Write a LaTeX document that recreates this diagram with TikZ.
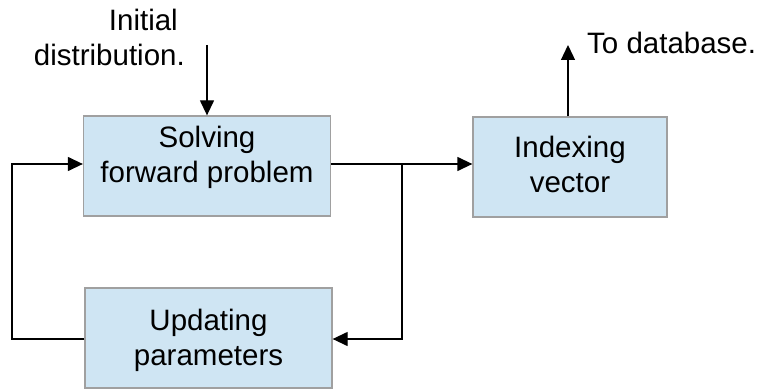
\documentclass[tikz,border=0pt]{standalone}
\usepackage{fontspec}
\setmainfont{Liberation Sans}
\usetikzlibrary{arrows.meta}
\definecolor{boxfill}{HTML}{CFE5F3}
\definecolor{boxline}{HTML}{A0A0A0}
\tikzset{
  blk/.style={draw=boxline, fill=boxfill, line width=1.3pt, minimum width=247pt, minimum height=100pt, inner sep=0pt},
  txt/.style={font=\fontsize{29.5}{35}\selectfont, inner sep=0pt, align=center},
  conn/.style={line width=1.3pt, draw=black},
  arr/.style={conn, -{Triangle[length=15pt,width=14pt]}},
  lbl/.style={font=\fontsize{29.5}{34.5}\selectfont, inner sep=0pt}
}
\begin{document}
\begin{tikzpicture}[x=1pt,y=-1pt]
\useasboundingbox (0,0) rectangle (760,390);
\node[blk, label={[txt, yshift=9pt]center:Solving\\forward problem}] (solve) at (207,166) {};
\node[blk, minimum width=194pt, label={[txt, yshift=3pt]center:Indexing\\vector}] (index) at (570,167) {};
\node[blk, label={[txt, yshift=-2pt]center:Updating\\parameters}] (update) at (208.5,338) {};
\node[lbl, align=right, anchor=north east] (init) at (185,9) {Initial\rule{7pt}{0pt}\\distribution.};
\node[lbl, anchor=west] (db) at (587,43) {To database.};
\coordinate (inittop) at (207,45);
\coordinate (dbtop) at (568,45);
\coordinate (branch) at (402,164);
\coordinate (leftx) at (12,339);
\draw[arr] (inittop) -- (inittop |- solve.north);
\draw[arr] (solve.east |- branch) -- (index.west |- branch);
\draw[arr] (branch) |- (update.east |- leftx);
\draw[arr] (update.west |- leftx) -- (leftx) |- (solve.west |- branch);
\draw[arr] (index.north -| dbtop) -- (dbtop);
\end{tikzpicture}
\end{document}
